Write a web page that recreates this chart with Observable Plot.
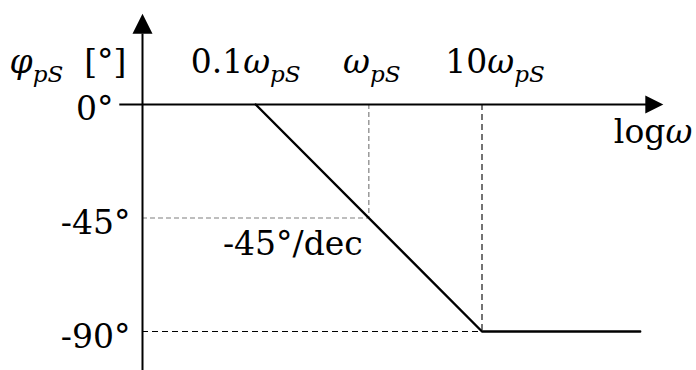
<!DOCTYPE html>
<html>
<head>
<meta charset="utf-8">
<script src="https://cdn.jsdelivr.net/npm/d3@7"></script>
<script src="https://cdn.jsdelivr.net/npm/@observablehq/plot@0.6"></script>
<style>
  html, body { margin: 0; padding: 0; background: #fff; }
</style>
</head>
<body>
<div id="chart"></div>
<script>
// Asymptotic Bode phase of a single pole at ωpS:
// 0° up to 0.1ωpS, falling at -45°/decade, -90° from 10ωpS on.
const omega = [0.1, 10, 250];          // ω / ωpS
const phase = [0, -90, -90];           // degrees
const freqTicks = [0.1, 1, 10];
const freqLabels = ["0.1ω_{pS}", "ω_{pS}", "10ω_{pS}"];
const phaseTicks = [0, -45, -90];
const phaseLabels = ["0°", "-45°", "-90°"];
const guideOmega = [1, 10];            // corner guides
const guidePhase = [-45, -90];
const slopeLabel = "-45°/dec";
const yTitle = "φ_{pS}\u00a0\u00a0[°]";
const xTitle = "logω";

// Axis extents (ω / ωpS and degrees)
const axisOmega = [0.01, 0.0063, 300, 400];   // y-axis position, x-axis start, x-axis end, arrow tip
const axisPhase = [-110, 28, 36];             // y-axis bottom, y-axis end, arrow tip

const curve = omega.map((w, i) => ({w, p: phase[i]}));
const guides = guideOmega.map((w, i) => ({w, p: guidePhase[i]}));
const freqTable = freqTicks.map((w, i) => ({w, label: freqLabels[i]}));
const phaseTable = phaseTicks.map((p, i) => ({p, label: phaseLabels[i]}));

// Filled arrowhead with its tip at the symbol origin, pointing right
const arrowHead = {
  draw(context, size) {
    const r = Math.sqrt(size / Math.PI);
    context.moveTo(0, 0);
    context.lineTo(-2 * r, -r);
    context.lineTo(-2 * r, r);
    context.closePath();
  }
};

const font = 33;
const labelDx = [-10, 3, 13];

const chart = Plot.plot({
  width: 696,
  height: 370,
  margin: 0,
  style: {background: "#fff", fontFamily: "'DejaVu Serif', serif", fontSize: `${font}px`, color: "#000"},
  x: {type: "log", domain: [0.01, 10], range: [142, 481.5], axis: null},
  y: {domain: [0, -90], range: [104, 331], axis: null},
  marks: [
    // corner guides
    Plot.ruleY(guides.slice(0, 1), {y: "p", x1: axisOmega[0], x2: "w", stroke: "#7f7f7f", strokeWidth: 1.2, strokeDasharray: "5,3"}),
    Plot.ruleX(guides.slice(0, 1), {x: "w", y1: 0, y2: "p", stroke: "#7f7f7f", strokeWidth: 1.2, strokeDasharray: "5,3"}),
    Plot.ruleY(guides.slice(1), {y: "p", x1: axisOmega[0], x2: "w", stroke: "#000", strokeWidth: 1.1, strokeDasharray: "6,4"}),
    Plot.ruleX(guides.slice(1), {x: "w", y1: 0, y2: "p", stroke: "#000", strokeWidth: 1.1, strokeDasharray: "6,4"}),
    // axes
    Plot.ruleY([0], {x1: axisOmega[1], x2: axisOmega[2], stroke: "#000", strokeWidth: 2}),
    Plot.ruleX([axisOmega[0]], {y1: axisPhase[0], y2: axisPhase[1], stroke: "#000", strokeWidth: 2}),
    Plot.dot([{w: axisOmega[3], p: 0}], {x: "w", y: "p", symbol: arrowHead, r: 9, fill: "#000", stroke: "none"}),
    Plot.dot([{w: axisOmega[0], p: axisPhase[2]}], {x: "w", y: "p", symbol: arrowHead, r: 10, rotate: -90, fill: "#000", stroke: "none"}),
    // phase asymptote
    Plot.line(curve, {x: "w", y: "p", stroke: "#000", strokeWidth: 2.4, strokeLinejoin: "miter"}),
    // frequency labels above the axis
    ...freqTable.map((d, i) => Plot.text([d], {x: "w", y: () => 0, text: "label", textAnchor: "middle", lineAnchor: "bottom", dx: labelDx[i], dy: -32, fontSize: font, fill: "#000"})),
    // phase labels
    Plot.text(phaseTable.slice(0, 1), {x: () => axisOmega[0], y: "p", text: "label", textAnchor: "end", lineAnchor: "bottom", dx: -29, dy: 15, fontSize: font, fill: "#000"}),
    Plot.text(phaseTable.slice(1), {x: () => axisOmega[0], y: "p", text: "label", textAnchor: "end", lineAnchor: "bottom", dx: -12, dy: 16, fontSize: font, fill: "#000"}),
    // slope
    Plot.text([{w: guideOmega[0], p: guidePhase[0], label: slopeLabel}], {x: "w", y: "p", text: "label", textAnchor: "end", lineAnchor: "bottom", dx: -6, dy: 37, fontSize: font, fill: "#000"}),
    // axis titles
    Plot.text([yTitle], {x: () => axisOmega[0], y: () => 0, text: d => d, textAnchor: "end", lineAnchor: "bottom", dx: -16, dy: -32, fontSize: font, fill: "#000"}),
    Plot.text([xTitle], {x: () => axisOmega[3], y: () => 0, text: d => d, textAnchor: "end", lineAnchor: "bottom", dx: 29, dy: 38, fontSize: font, fill: "#000"})
  ]
});

// Italic Greek letters and subscripts written as _{...}
const svgNS = "http://www.w3.org/2000/svg";
const subShift = 9;
d3.select(chart).selectAll("text").each(function () {
  const src = this.textContent;
  if (!/[_ωφ]/.test(src)) return;
  this.textContent = "";
  let shift = 0;
  for (const part of src.split(/(_\{[^}]*\})/)) {
    if (!part) continue;
    const sub = part.startsWith("_{");
    const body = sub ? part.slice(2, -1) : part;
    const chunks = sub ? [body] : body.split(/([ωφ])/);
    for (const c of chunks) {
      if (!c) continue;
      const t = document.createElementNS(svgNS, "tspan");
      t.textContent = c;
      if (sub || /[ωφ]/.test(c)) t.setAttribute("font-style", "italic");
      if (sub) t.setAttribute("font-size", "70%");
      const target = sub ? subShift : 0;
      if (target !== shift) { t.setAttribute("dy", target - shift); shift = target; }
      this.appendChild(t);
    }
  }
});

document.getElementById("chart").appendChild(chart);
</script>
</body>
</html>
